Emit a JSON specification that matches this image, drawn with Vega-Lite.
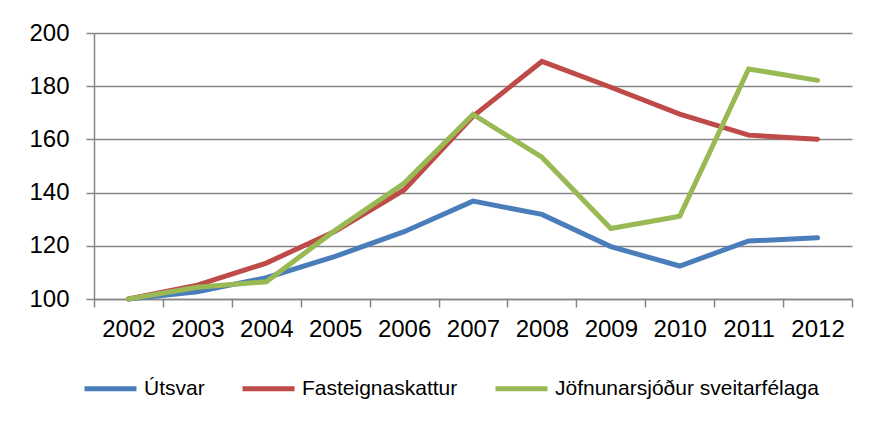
{
  "$schema": "https://vega.github.io/schema/vega-lite/v6.json",
  "autosize": "none",
  "width": 758,
  "height": 266,
  "padding": {"left": 94, "top": 33, "right": 25, "bottom": 126},
  "background": "white",
  "config": {
    "view": {"stroke": null},
    "font": "Liberation Sans"
  },
  "data": {
    "values": [
      {"year": "2002", "series": "Útsvar", "value": 100},
      {"year": "2003", "series": "Útsvar", "value": 102.7},
      {"year": "2004", "series": "Útsvar", "value": 108},
      {"year": "2005", "series": "Útsvar", "value": 116},
      {"year": "2006", "series": "Útsvar", "value": 125.3},
      {"year": "2007", "series": "Útsvar", "value": 136.8},
      {"year": "2008", "series": "Útsvar", "value": 131.8},
      {"year": "2009", "series": "Útsvar", "value": 119.7},
      {"year": "2010", "series": "Útsvar", "value": 112.4},
      {"year": "2011", "series": "Útsvar", "value": 121.8},
      {"year": "2012", "series": "Útsvar", "value": 123},
      {"year": "2002", "series": "Fasteignaskattur", "value": 100},
      {"year": "2003", "series": "Fasteignaskattur", "value": 105.2},
      {"year": "2004", "series": "Fasteignaskattur", "value": 113.5},
      {"year": "2005", "series": "Fasteignaskattur", "value": 125.5},
      {"year": "2006", "series": "Fasteignaskattur", "value": 141},
      {"year": "2007", "series": "Fasteignaskattur", "value": 168.7},
      {"year": "2008", "series": "Fasteignaskattur", "value": 189.3},
      {"year": "2009", "series": "Fasteignaskattur", "value": 179.6},
      {"year": "2010", "series": "Fasteignaskattur", "value": 169.5},
      {"year": "2011", "series": "Fasteignaskattur", "value": 161.6},
      {"year": "2012", "series": "Fasteignaskattur", "value": 160.1},
      {"year": "2002", "series": "Jöfnunarsjóður sveitarfélaga", "value": 100},
      {"year": "2003", "series": "Jöfnunarsjóður sveitarfélaga", "value": 104.4},
      {"year": "2004", "series": "Jöfnunarsjóður sveitarfélaga", "value": 106.5},
      {"year": "2005", "series": "Jöfnunarsjóður sveitarfélaga", "value": 125.8},
      {"year": "2006", "series": "Jöfnunarsjóður sveitarfélaga", "value": 143.5},
      {"year": "2007", "series": "Jöfnunarsjóður sveitarfélaga", "value": 169.4},
      {"year": "2008", "series": "Jöfnunarsjóður sveitarfélaga", "value": 153.3},
      {"year": "2009", "series": "Jöfnunarsjóður sveitarfélaga", "value": 126.5},
      {"year": "2010", "series": "Jöfnunarsjóður sveitarfélaga", "value": 131.1},
      {"year": "2011", "series": "Jöfnunarsjóður sveitarfélaga", "value": 186.5},
      {"year": "2012", "series": "Jöfnunarsjóður sveitarfélaga", "value": 182.2}
    ]
  },
  "mark": {"type": "line", "strokeWidth": 5, "strokeCap": "round", "strokeJoin": "miter"},
  "encoding": {
    "x": {
      "field": "year",
      "type": "ordinal",
      "bandPosition": 0.5,
      "scale": {"type": "band", "paddingInner": 0, "paddingOuter": 0},
      "axis": {
        "title": null,
        "labelAngle": 0,
        "labelFontSize": 24,
        "labelColor": "#000000",
        "labelPadding": 10,
        "tickBand": "extent",
        "tickSize": 8,
        "tickColor": "#868686",
        "domainColor": "#868686",
        "tickWidth": 1.5,
        "domainWidth": 1.5,
        "grid": false
      }
    },
    "y": {
      "field": "value",
      "type": "quantitative",
      "scale": {"domain": [100, 200], "nice": false, "zero": false},
      "axis": {
        "title": null,
        "values": [100, 120, 140, 160, 180, 200],
        "labelFontSize": 24,
        "labelColor": "#000000",
        "labelPadding": 17,
        "tickSize": 8,
        "tickColor": "#868686",
        "tickWidth": 1.5,
        "domainColor": "#868686",
        "domainWidth": 1.5,
        "grid": true,
        "gridColor": "#868686",
        "gridWidth": 1.5,
        "gridOpacity": 1
      }
    },
    "color": {
      "field": "series",
      "type": "nominal",
      "scale": {
        "domain": ["Útsvar", "Fasteignaskattur", "Jöfnunarsjóður sveitarfélaga"],
        "range": ["#4A7EBB", "#BE4B48", "#98B954"]
      },
      "legend": {
        "title": null,
        "orient": "none",
        "legendX": -12,
        "legendY": 327,
        "direction": "horizontal",
        "columns": 3,
        "symbolType": "stroke",
        "symbolSize": 2704,
        "symbolStrokeWidth": 5,
        "labelFontSize": 21,
        "labelLimit": 0,
        "labelColor": "#000000",
        "labelOffset": 5,
        "columnPadding": 27
      }
    }
  }
}
